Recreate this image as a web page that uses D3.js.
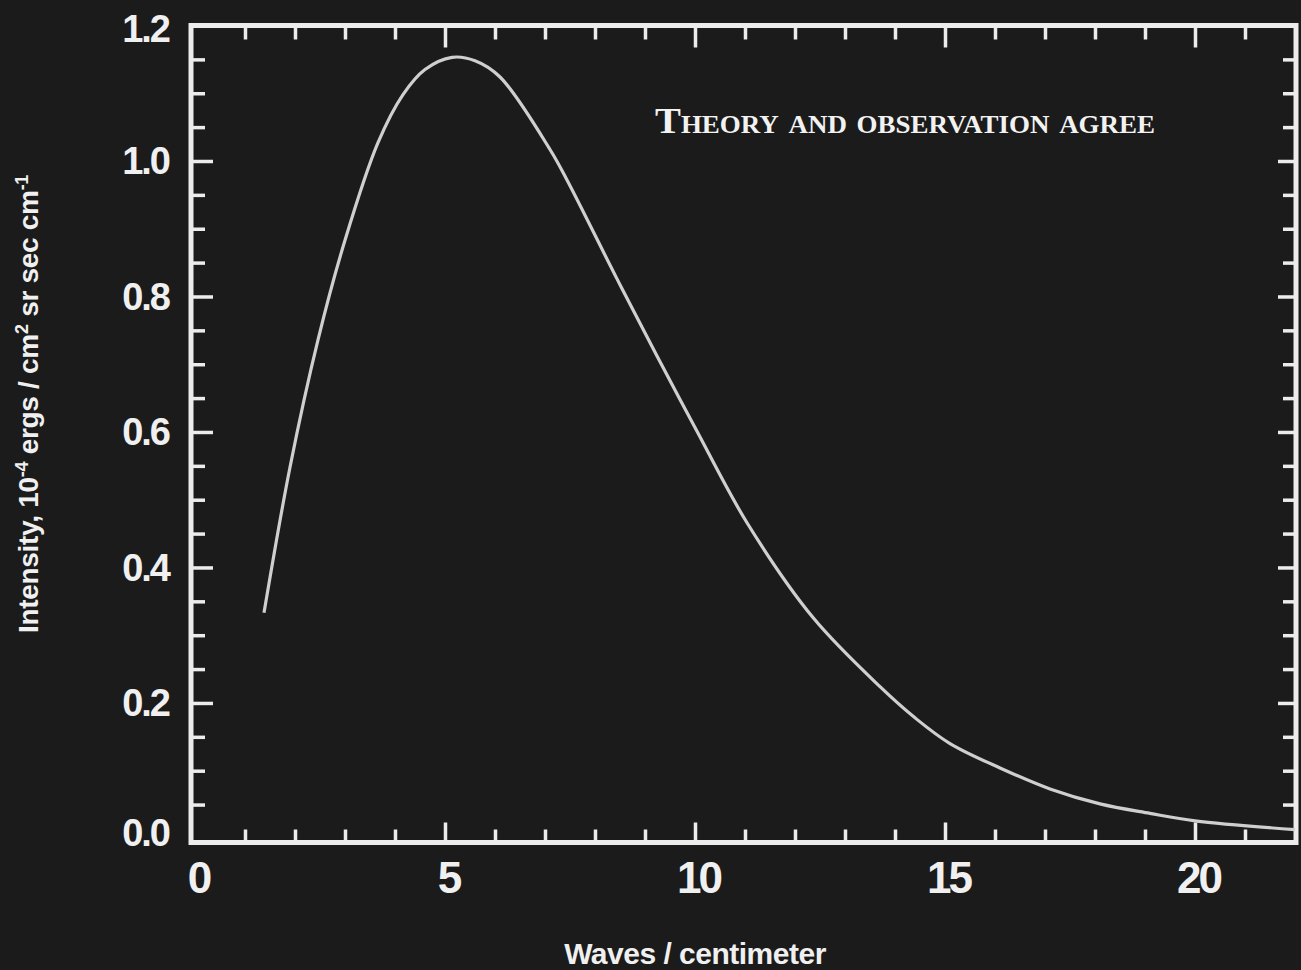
<!DOCTYPE html>
<html lang="en">
<head>
    <meta charset="UTF-8">
    <title>Theory and observation agree</title>
    <script src="https://d3js.org/d3.v7.min.js"></script>
    <style>
        html, body {
            margin: 0;
            padding: 0;
            background: #1b1b1b;
        }
        svg {
            display: block;
        }
        .tick line {
            stroke: #ececec;
        }
    </style>
</head>
<body>
<div id="chart"></div>
<script>
// values
var waves = [1.38, 1.9, 2.46, 3.0, 3.66, 4.16, 4.6, 5.14, 5.6, 6.1, 7.1, 7.44, 8.44, 9.24, 9.7, 10.04, 11.04, 12.36, 13.7, 14.4, 15.1, 16.1, 17.1, 18.1, 19.1, 20.0, 22.0];
var intensity = [0.333, 0.548, 0.736, 0.883, 1.027, 1.098, 1.135, 1.153, 1.148, 1.124, 1.017, 0.972, 0.826, 0.712, 0.648, 0.601, 0.466, 0.326, 0.224, 0.178, 0.140, 0.104, 0.073, 0.051, 0.037, 0.026, 0.013];

var xMajor = [0, 5, 10, 15, 20];
var xMinor = d3.range(0, 22, 1);
var yMajor = [0.0, 0.2, 0.4, 0.6, 0.8, 1.0, 1.2];
var yMinor = d3.range(0, 1.2, 0.05);

var note = "Theory and observation agree";
var xTitle = "Waves / centimeter";

var width = 1301, height = 970;
// plot frame (window.top is taken, so own names)
var fLeft = 191, fRight = 1296, fTop = 25.5, fBottom = 842.5;

var x = d3.scaleLinear().domain([-0.08, 22.02]).range([fLeft, fRight]);
var y = d3.scaleLinear().domain([-0.006, 1.2]).range([fBottom, fTop]);

var svg = d3.select("#chart").append("svg")
    .attr("width", width)
    .attr("height", height);

svg.append("rect")
    .attr("width", width)
    .attr("height", height)
    .attr("fill", "#1b1b1b");

var minorLen = 13, majorLen = 21;

function ticks(axisFn, scale, values, len, pos, labels) {
    var ax = axisFn(scale)
        .tickValues(values)
        .tickSizeInner(-len)
        .tickSizeOuter(0);
    if (!labels) ax.tickFormat("");
    var g = svg.append("g").attr("transform", pos).call(ax);
    g.select(".domain").remove();
    g.selectAll(".tick line").attr("stroke-width", 3.5);
    return g;
}

var xMinorOnly = xMinor.filter(d => d % 5 != 0);
var yMinorOnly = yMinor.filter((d, i) => i % 4 != 0);

// minor ticks on four sides
ticks(d3.axisBottom, x, xMinorOnly, minorLen, `translate(0,${fBottom})`);
ticks(d3.axisTop, x, xMinorOnly, minorLen + 1, `translate(0,${fTop})`);
ticks(d3.axisLeft, y, yMinorOnly, minorLen + 1, `translate(${fLeft},0)`);
ticks(d3.axisRight, y, yMinorOnly, minorLen, `translate(${fRight},0)`);

// major ticks with labels
var xAx = ticks(d3.axisBottom, x, xMajor, majorLen - 1, `translate(0,${fBottom})`, true);
xAx.selectAll(".tick").filter(d => d == 0).select("line").remove();
xAx.selectAll("text")
    .attr("fill", "#f0f0f0")
    .attr("x", 3)
    .attr("y", 19)
    .style("font", "bold 44px 'Liberation Sans', Arial, sans-serif")
    .style("letter-spacing", "-3px");

ticks(d3.axisTop, x, xMajor.slice(1), majorLen + 1, `translate(0,${fTop})`);
ticks(d3.axisRight, y, yMajor.slice(1, -1), majorLen - 3, `translate(${fRight},0)`);

var yAx = ticks(d3.axisLeft, y, yMajor, majorLen + 1, `translate(${fLeft},0)`, true);
yAx.selectAll(".tick").filter(d => d == 0 || d == 1.2).select("line").remove();
yAx.selectAll("text")
    .text(d3.format(".1f"))
    .attr("fill", "#f0f0f0")
    .attr("x", -22)
    .attr("dy", d => d == 0 ? "0.18em" : (d == 1.2 ? "0.42em" : "0.34em"))
    .style("font", "bold 38px 'Liberation Sans', Arial, sans-serif")
    .style("letter-spacing", "-2px");

// frame
svg.append("rect")
    .attr("x", fLeft)
    .attr("y", fTop)
    .attr("width", fRight - fLeft)
    .attr("height", fBottom - fTop)
    .attr("fill", "none")
    .attr("stroke", "#ececec")
    .attr("stroke-width", 5);

// curve
var line = d3.line()
    .x((d, i) => x(waves[i]))
    .y(d => y(d))
    .curve(d3.curveCatmullRom.alpha(0.5));

svg.append("path")
    .datum(intensity)
    .attr("d", line)
    .attr("fill", "none")
    .attr("stroke", "#cfcfcf")
    .attr("stroke-width", 3.2);

// annotation
svg.append("text")
    .attr("x", 655)
    .attr("y", 133)
    .attr("fill", "#f2f2f2")
    .attr("textLength", 500)
    .attr("lengthAdjust", "spacingAndGlyphs")
    .style("font", "small-caps bold 36px 'Liberation Serif', 'DejaVu Serif', serif")
    .text(note);

// axis titles
svg.append("text")
    .attr("x", 695)
    .attr("y", 964)
    .attr("text-anchor", "middle")
    .attr("fill", "#f0f0f0")
    .style("font", "bold 30px 'Liberation Sans', Arial, sans-serif")
    .style("letter-spacing", "-0.5px")
    .text(xTitle);

var yt = svg.append("text")
    .attr("transform", "translate(38,404) rotate(-90)")
    .attr("text-anchor", "middle")
    .attr("fill", "#f0f0f0")
    .style("font", "bold 28px 'Liberation Sans', Arial, sans-serif")
    .style("letter-spacing", "-0.3px");
yt.append("tspan").text("Intensity, 10");
yt.append("tspan").attr("dy", -10).style("font-size", "18px").text("-4");
yt.append("tspan").attr("dy", 10).text(" ergs / cm");
yt.append("tspan").attr("dy", -10).style("font-size", "18px").text("2");
yt.append("tspan").attr("dy", 10).text(" sr sec cm");
yt.append("tspan").attr("dy", -10).style("font-size", "18px").text("-1");
</script>
</body>
</html>
